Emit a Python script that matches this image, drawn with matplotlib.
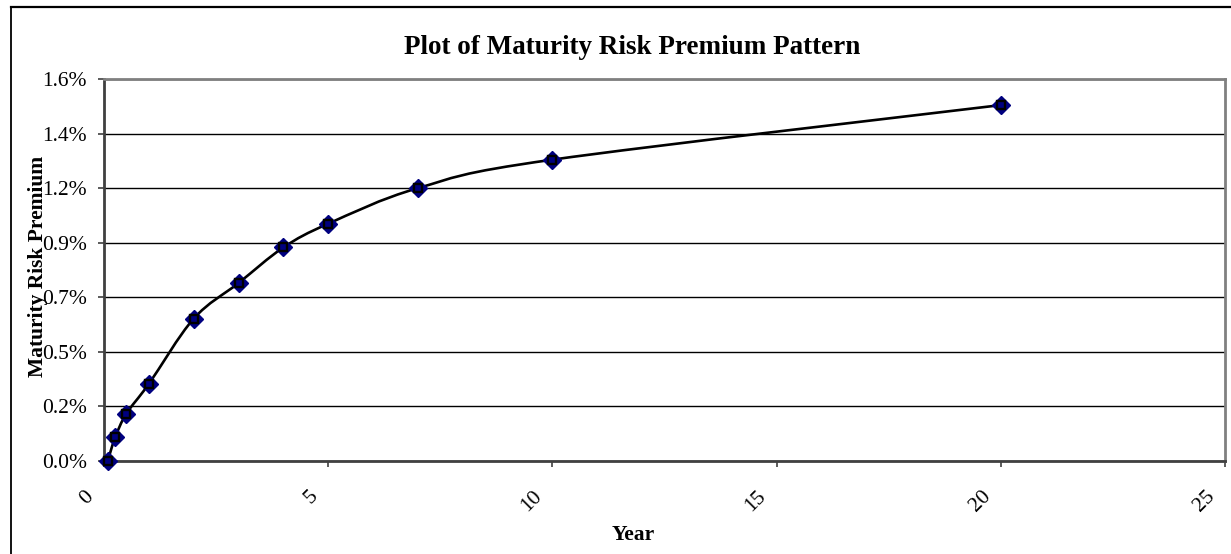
import matplotlib
matplotlib.use("Agg")
import matplotlib.pyplot as plt
from matplotlib.path import Path
from matplotlib.patches import PathPatch
from matplotlib.lines import Line2D
from matplotlib.transforms import ScaledTranslation
import numpy as np

years = [0.083, 0.25, 0.5, 1, 2, 3, 4, 5, 7, 10, 20]
premium = [0.0, 0.001, 0.002, 0.00325, 0.006, 0.0075, 0.009, 0.01, 0.0115, 0.0127, 0.015]
y_ticks = [0.0, 0.0023, 0.0046, 0.0069, 0.0092, 0.0115, 0.0138, 0.0161]
y_tick_labels = ["0.0%", "0.2%", "0.5%", "0.7%", "0.9%", "1.2%", "1.4%", "1.6%"]
x_ticks = [0, 5, 10, 15, 20, 25]
x_tick_labels = ["0", "5", "10", "15", "20", "25"]

W, H = 1231, 554
fig = plt.figure(figsize=(W / 100, H / 100), dpi=100)
fig.patch.set_facecolor("white")

# outer chart border (left and top visible)
fig.add_artist(Line2D([11 / W, 11 / W], [0, 1 - 7 / H], transform=fig.transFigure, color="black", lw=1.3))
fig.add_artist(Line2D([11 / W, 1], [1 - 7 / H, 1 - 7 / H], transform=fig.transFigure, color="black", lw=1.6))

left, right, top, bottom = 104, 1225, 79, 461
ax = fig.add_axes([left / W, 1 - bottom / H, (right - left) / W, (bottom - top) / H])
ax.set_xlim(0, 25)
ax.set_ylim(0, 0.0161)

serif = "Liberation Serif"

ax.set_yticks(y_ticks)
ax.set_yticklabels(y_tick_labels, fontfamily=serif, fontsize=15.5)
ax.set_xticks(x_ticks)
ax.set_xticklabels(x_tick_labels, fontfamily=serif, fontsize=15.5, rotation=45,
                   ha="right", va="center", rotation_mode="anchor")
ax.tick_params(axis="y", direction="out", length=4.5, width=1.2, color="#404040", pad=8)
ax.tick_params(axis="x", direction="out", length=4.5, width=1.2, color="#404040", pad=19)
shift = ScaledTranslation(-13 / 100, 0, fig.dpi_scale_trans)
for lab in ax.get_xticklabels():
    lab.set_transform(lab.get_transform() + shift)

ax.grid(axis="y", color="black", lw=1.0)
ax.set_axisbelow(True)
for s in ["left", "bottom"]:
    ax.spines[s].set_color("#404040")
    ax.spines[s].set_linewidth(2.0)
for s in ["top", "right"]:
    ax.spines[s].set_color("#808080")
    ax.spines[s].set_linewidth(2.0)

# smoothed line (Excel-like bezier), computed in pixel-proportional space
sx = (right - left) / 25.0
sy = (bottom - top) / 0.0161
P = np.column_stack([np.array(years) * sx, np.array(premium) * sy])
n = len(P)
verts = [tuple(P[0])]
codes = [Path.MOVETO]
for i in range(n - 1):
    p0 = P[i - 1] if i > 0 else P[i]
    p1 = P[i]
    p2 = P[i + 1]
    p3 = P[i + 2] if i + 2 < n else P[i + 1]
    c1 = p1 + (p2 - p0) / 6.0
    c2 = p2 - (p3 - p1) / 6.0
    verts += [tuple(c1), tuple(c2), tuple(p2)]
    codes += [Path.CURVE4] * 3
verts = [(vx / sx, vy / sy) for vx, vy in verts]
ax.add_patch(PathPatch(Path(verts, codes), facecolor="none", edgecolor="black", lw=1.9, zorder=3))

ax.plot(years, premium, linestyle="none", marker="D", markersize=9.5,
        markerfacecolor="#000080", markeredgecolor="#000080", zorder=4, clip_on=False)
ax.plot(years, premium, linestyle="none", marker="s", markersize=6,
        markerfacecolor="#000080", markeredgecolor="black", markeredgewidth=1.7, zorder=5, clip_on=False)

fig.text(632 / W, 1 - 48 / H, "Plot of Maturity Risk Premium Pattern", fontfamily=serif,
         fontweight="bold", fontsize=19.5, ha="center", va="center")
fig.text(38 / W, 1 - 266 / H, "Maturity Risk Premium", fontfamily=serif, fontweight="bold",
         fontsize=15.5, rotation=90, ha="center", va="center")
fig.text(633 / W, 1 - 535 / H, "Year", fontfamily=serif, fontweight="bold",
         fontsize=15.5, ha="center", va="center")

fig.savefig("out.png", dpi=100)
